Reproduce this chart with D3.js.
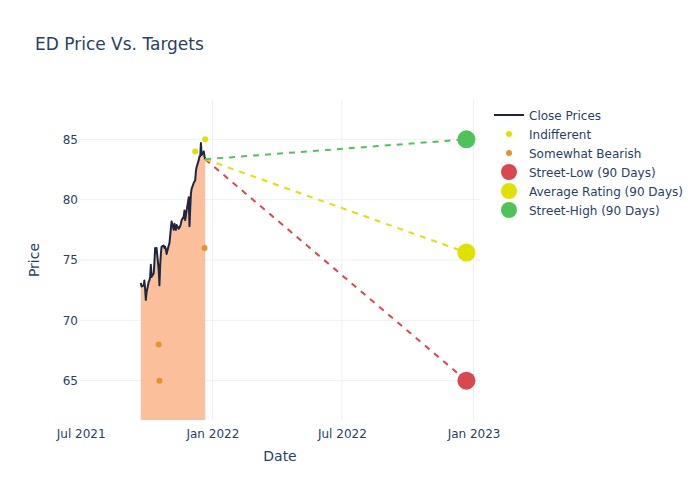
<!DOCTYPE html>
<html>
<head>
<meta charset="utf-8">
<script src="https://cdn.jsdelivr.net/npm/d3@7"></script>
<style>
  html, body { margin: 0; padding: 0; background: #fff; }
  svg { display: block; font-family: "DejaVu Sans", sans-serif; }
</style>
</head>
<body>
<svg id="chart" width="700" height="500"></svg>
<script>
// ---------------- DATA ----------------
const closeDates = [
  "2021-09-23","2021-09-24","2021-09-27","2021-09-28","2021-09-29","2021-09-30",
  "2021-10-01","2021-10-04","2021-10-05","2021-10-06","2021-10-07","2021-10-08",
  "2021-10-11","2021-10-12","2021-10-13","2021-10-14","2021-10-15","2021-10-18",
  "2021-10-19","2021-10-20","2021-10-21","2021-10-22","2021-10-25","2021-10-26",
  "2021-10-27","2021-10-28","2021-10-29","2021-11-01","2021-11-02","2021-11-03",
  "2021-11-04","2021-11-05","2021-11-08","2021-11-09","2021-11-10","2021-11-11",
  "2021-11-12","2021-11-15","2021-11-16","2021-11-17","2021-11-18","2021-11-19",
  "2021-11-22","2021-11-23","2021-11-24","2021-11-26","2021-11-29","2021-11-30",
  "2021-12-01","2021-12-02","2021-12-03","2021-12-06","2021-12-07","2021-12-08",
  "2021-12-09","2021-12-10","2021-12-13","2021-12-14","2021-12-15","2021-12-16",
  "2021-12-17","2021-12-20","2021-12-21","2021-12-22"
];
const closePrices = [
  73.1, 72.8, 72.9, 73.3, 72.6, 71.7,
  72.3, 73.2, 73.3, 73.6, 74.6, 73.6,
  73.9, 74.8, 76.0, 75.6, 76.0, 74.2,
  72.9, 74.5, 75.5, 76.1, 76.2, 76.0,
  76.1, 75.9, 75.5, 76.2, 76.4, 77.0,
  77.6, 78.2, 77.5, 78.0, 77.6, 77.5,
  77.9, 77.6, 77.7, 77.8, 78.0, 78.3,
  78.6, 79.1, 78.3, 79.1, 80.2, 77.8,
  79.2, 80.5, 80.9, 81.4, 81.5, 81.6,
  82.4, 82.7, 83.3, 83.6, 83.6, 84.7,
  83.7, 84.0, 83.6, 83.35
];

const indifferentDates = ["2021-12-08", "2021-12-22"];
const indifferentPrices = [84.0, 85.0];

const bearishDates = ["2021-10-18", "2021-10-19", "2021-12-21"];
const bearishPrices = [68.0, 65.0, 76.0];

const targetNames = ["Street-Low (90 Days)", "Average Rating (90 Days)", "Street-High (90 Days)"];
const targetDate = "2022-12-22";
const targetValues = [65.0, 75.62, 85.0];

const xTickDates = ["2021-07-01", "2022-01-01", "2022-07-01", "2023-01-01"];
const xTickLabels = ["Jul 2021", "Jan 2022", "Jul 2022", "Jan 2023"];
const yTicks = [65, 70, 75, 80, 85];

// ---------------- STYLE ----------------
const textColor = "#2a3f5f";
const gridColor = "#ebf0f8";
const lineColor = "#1f2640";
const fillColor = "#fbbf9c";
const yellow = "#e1e100";
const orange = "#e0962a";
const targetColors = ["#d9474f", "#e1e100", "#4fc359"];

const parse = d3.utcParse("%Y-%m-%d");
const svg = d3.select("#chart");

const plot = { left: 80, right: 480, top: 100, bottom: 420 };

const x = d3.scaleUtc()
  .domain([parse("2021-06-30"), parse("2023-01-10")])
  .range([plot.left, plot.right]);
const y = d3.scaleLinear()
  .domain([61.74, 88.26])
  .range([plot.bottom, plot.top]);

// clip
svg.append("defs").append("clipPath").attr("id", "clip")
  .append("rect")
  .attr("x", plot.left).attr("y", plot.top)
  .attr("width", plot.right - plot.left).attr("height", plot.bottom - plot.top);

// grid (skip the line sitting on the plot's left edge)
const grid = svg.append("g");
grid.selectAll("line.vx").data(xTickDates.filter(d => x(parse(d)) > plot.left + 2)).join("line")
  .attr("x1", d => x(parse(d))).attr("x2", d => x(parse(d)))
  .attr("y1", plot.top).attr("y2", plot.bottom)
  .attr("stroke", gridColor).attr("stroke-width", 1);
grid.selectAll("line.hy").data(yTicks).join("line")
  .attr("x1", plot.left).attr("x2", plot.right)
  .attr("y1", d => y(d)).attr("y2", d => y(d))
  .attr("stroke", gridColor).attr("stroke-width", 1);

// axes (labels only, via d3 axis)
const xAxis = d3.axisBottom(x)
  .tickValues(xTickDates.map(parse))
  .tickFormat((d, i) => xTickLabels[i])
  .tickSize(0).tickPadding(9);
const gx = svg.append("g").attr("transform", `translate(0,${plot.bottom})`).call(xAxis);
gx.select(".domain").remove();
gx.selectAll("text").attr("fill", textColor).style("font-size", "12px")
  .style("font-family", "DejaVu Sans, sans-serif");

const yAxis = d3.axisLeft(y).tickValues(yTicks).tickSize(0).tickPadding(2);
const gy = svg.append("g").attr("transform", `translate(${plot.left},0)`).call(yAxis);
gy.select(".domain").remove();
gy.selectAll("text").attr("fill", textColor).style("font-size", "12px")
  .style("font-family", "DejaVu Sans, sans-serif");

// data layer
const layer = svg.append("g").attr("clip-path", "url(#clip)");
const closeData = closeDates.map((d, i) => ({ date: parse(d), v: closePrices[i] }));

layer.append("path").datum(closeData)
  .attr("d", d3.area().x(d => x(d.date)).y0(y(0)).y1(d => y(d.v)))
  .attr("fill", fillColor).attr("stroke", "none");

layer.append("path").datum(closeData)
  .attr("d", d3.line().x(d => x(d.date)).y(d => y(d.v)))
  .attr("fill", "none").attr("stroke", lineColor).attr("stroke-width", 2)
  .attr("stroke-linejoin", "round");

// analyst points
layer.selectAll("circle.ind").data(indifferentDates).join("circle")
  .attr("cx", d => x(parse(d))).attr("cy", (d, i) => y(indifferentPrices[i]))
  .attr("r", 3).attr("fill", yellow);
layer.selectAll("circle.bear").data(bearishDates).join("circle")
  .attr("cx", d => x(parse(d))).attr("cy", (d, i) => y(bearishPrices[i]))
  .attr("r", 3).attr("fill", orange);

// target lines + markers
const last = closeData[closeData.length - 1];
targetValues.forEach((v, i) => {
  layer.append("line")
    .attr("x1", x(last.date)).attr("y1", y(last.v))
    .attr("x2", x(parse(targetDate))).attr("y2", y(v))
    .attr("stroke", targetColors[i]).attr("stroke-width", 2)
    .attr("stroke-dasharray", "6,6");
});
targetValues.forEach((v, i) => {
  layer.append("circle")
    .attr("cx", x(parse(targetDate))).attr("cy", y(v))
    .attr("r", 9).attr("fill", targetColors[i]);
});

// titles
svg.append("text").attr("x", 35).attr("y", 50)
  .attr("fill", textColor).style("font-size", "17px")
  .text("ED Price Vs. Targets");
svg.append("text").attr("x", (plot.left + plot.right) / 2).attr("y", 461)
  .attr("text-anchor", "middle").attr("fill", textColor).style("font-size", "14px")
  .text("Date");
svg.append("text")
  .attr("transform", `translate(39,${(plot.top + plot.bottom) / 2}) rotate(-90)`)
  .attr("text-anchor", "middle").attr("fill", textColor).style("font-size", "14px")
  .text("Price");

// legend
const legendItems = [
  { name: "Close Prices", type: "line", color: lineColor },
  { name: "Indifferent", type: "dot", color: yellow, r: 3 },
  { name: "Somewhat Bearish", type: "dot", color: orange, r: 3 },
  { name: targetNames[0], type: "dot", color: targetColors[0], r: 8 },
  { name: targetNames[1], type: "dot", color: targetColors[1], r: 8 },
  { name: targetNames[2], type: "dot", color: targetColors[2], r: 8 }
];
const lg = svg.append("g").attr("transform", "translate(494,115)");
legendItems.forEach((it, i) => {
  const g = lg.append("g").attr("transform", `translate(0,${i * 19})`);
  if (it.type === "line") {
    g.append("line").attr("x1", 0).attr("x2", 30).attr("y1", 0).attr("y2", 0)
      .attr("stroke", it.color).attr("stroke-width", 2);
  } else {
    g.append("circle").attr("cx", 15).attr("cy", 0).attr("r", it.r).attr("fill", it.color);
  }
  g.append("text").attr("x", 35).attr("y", 4.5)
    .attr("fill", textColor).style("font-size", "12px").text(it.name);
});
</script>
</body>
</html>
